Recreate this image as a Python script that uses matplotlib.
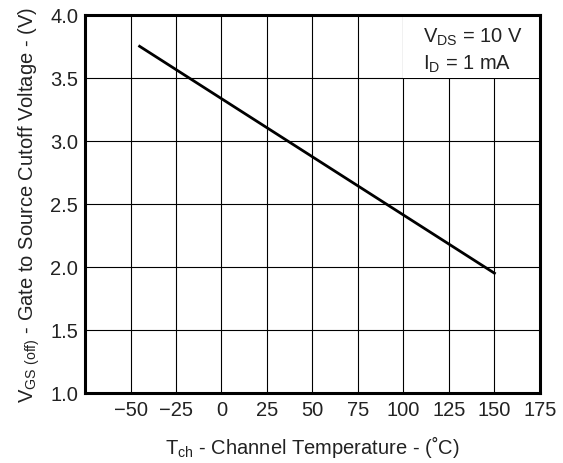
import matplotlib
matplotlib.use("Agg")
import matplotlib.pyplot as plt
from matplotlib.patches import Rectangle

# data
temp_c = [-45, 150]
vgs_off = [3.75, 1.95]

x_ticks = [-50, -25, 0, 25, 50, 75, 100, 125, 150, 175]
y_ticks = [1.0, 1.5, 2.0, 2.5, 3.0, 3.5, 4.0]

plt.rcParams["font.family"] = ["Liberation Sans", "DejaVu Sans"]
plt.rcParams["mathtext.fontset"] = "custom"
plt.rcParams["mathtext.rm"] = "Liberation Sans"

fig = plt.figure(figsize=(5.63, 4.64), dpi=100)
ax = fig.add_axes([0.151, 0.151, 0.808, 0.815])

ax.set_xlim(-75, 175)
ax.set_ylim(1.0, 4.0)
ax.set_xticks(x_ticks)
ax.set_yticks(y_ticks)
ax.set_yticklabels([f"{v:.1f}" for v in y_ticks])
ax.tick_params(length=0, labelsize=14.5, pad=5, colors="#222222")

ax.grid(True, color="black", linewidth=0.8, zorder=1)
ax.set_axisbelow(True)

# white box behind the conditions text, hides the grid there
ax.add_patch(Rectangle((100, 3.5), 75, 0.5, facecolor="white", edgecolor="none", zorder=1.5))

ax.plot(temp_c, vgs_off, color="black", linewidth=2, zorder=3)

for s in ax.spines.values():
    s.set_linewidth(2.2)
    s.set_zorder(4)

ax.text(110.5, 3.825, r"$\mathregular{V_{DS}}$ = 10 V", fontsize=14.5, va="center", ha="left",
        color="#222222", zorder=5)
ax.text(110.5, 3.617, r"$\mathregular{I_{D}}$ = 1 mA", fontsize=14.5, va="center", ha="left",
        color="#222222", zorder=5)

ax.set_xlabel(r"$\mathregular{T_{ch}}$ - Channel Temperature - (˚C)", fontsize=14.5, labelpad=10,
              color="#222222")
ax.set_ylabel(r"$\mathregular{V_{GS\ (off)}}$ - Gate to Source Cutoff Voltage - (V)", fontsize=14.5,
              labelpad=6, color="#222222")

fig.savefig("out.png", dpi=100)
